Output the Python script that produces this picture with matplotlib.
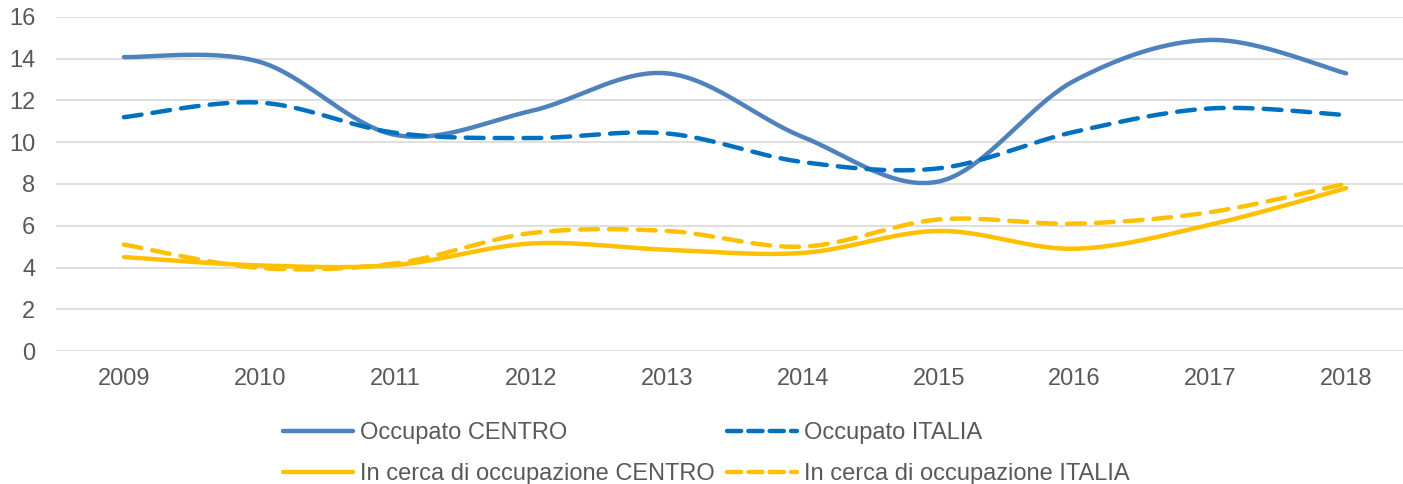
import numpy as np
import matplotlib
matplotlib.use("Agg")
import matplotlib.pyplot as plt
from matplotlib.lines import Line2D

plt.rcParams['font.family'] = ['Liberation Sans', 'DejaVu Sans']

# ---------------- data ----------------
anni = ['2009', '2010', '2011', '2012', '2013', '2014', '2015', '2016', '2017', '2018']

occ_centro = [14.08, 13.85, 10.35, 11.5, 13.3, 10.25, 8.12, 12.95, 14.9, 13.3]
occ_italia = [11.2, 11.9, 10.45, 10.2, 10.42, 9.05, 8.75, 10.5, 11.62, 11.3]
cerca_centro = [4.5, 4.1, 4.12, 5.15, 4.85, 4.7, 5.75, 4.9, 6.05, 7.8]
cerca_italia = [5.1, 3.98, 4.2, 5.65, 5.75, 5.0, 6.3, 6.1, 6.65, 8.02]


def excel_smooth(y, n=40):
    """Bezier smoothing like Excel's 'smoothed line'."""
    y = np.asarray(y, dtype=float)
    x = np.arange(len(y), dtype=float)
    pts = np.column_stack([x, y])
    out = [pts[0]]
    t = np.linspace(0, 1, n)[1:, None]
    for i in range(len(pts) - 1):
        p0 = pts[max(i - 1, 0)]
        p1 = pts[i]
        p2 = pts[i + 1]
        p3 = pts[min(i + 2, len(pts) - 1)]
        c1 = p1 + (p2 - p0) / 6.0
        c2 = p2 - (p3 - p1) / 6.0
        seg = ((1 - t) ** 3) * p1 + 3 * ((1 - t) ** 2) * t * c1 \
            + 3 * (1 - t) * t ** 2 * c2 + t ** 3 * p2
        out.extend(seg)
    out = np.array(out)
    return out[:, 0], out[:, 1]


fig = plt.figure(figsize=(14.03, 4.84), dpi=100)
ax = fig.add_axes([56 / 1403, 1 - 351 / 484, 1358 / 1403, 334 / 484])

blue1 = '#4F81BD'
blue2 = '#0070C0'
gold = '#FFC000'
dash = (4, 2.5)
fs = 17

series = [
    (occ_centro, blue1, '-', 'Occupato CENTRO'),
    (occ_italia, blue2, '--', 'Occupato ITALIA'),
    (cerca_centro, gold, '-', 'In cerca di occupazione CENTRO'),
    (cerca_italia, gold, '--', 'In cerca di occupazione ITALIA'),
]

handles = []
for vals, col, ls, lab in series:
    xs, ys = excel_smooth(vals)
    if ls == '--':
        ax.plot(xs, ys, color=col, lw=3.2, dashes=dash,
                dash_capstyle='round', solid_capstyle='round', zorder=3)
    else:
        ax.plot(xs, ys, color=col, lw=3.2, solid_capstyle='round', zorder=3)
    h = Line2D([], [], color=col, lw=3.2, solid_capstyle='round',
               dash_capstyle='round')
    if ls == '--':
        h.set_dashes((3.2, 1.6))
    h.set_label(lab)
    handles.append(h)

ax.set_xlim(-0.5, 9.5)
ax.set_ylim(0, 16)
ax.set_yticks(range(0, 17, 2))
ax.set_xticks(range(len(anni)))
ax.set_xticklabels(anni)
ax.yaxis.grid(True, color='#D9D9D9', lw=1.2)
ax.set_axisbelow(True)
for s in ax.spines.values():
    s.set_visible(False)
ax.tick_params(axis='both', length=0, labelsize=fs, colors='#595959')
ax.tick_params(axis='y', pad=15)
ax.tick_params(axis='x', pad=12)

# row 1: occupato, row 2: in cerca
order = [handles[0], handles[2], handles[1], handles[3]]
fig.legend(handles=order, labels=[h.get_label() for h in order],
           ncol=2, loc='upper left', frameon=False,
           bbox_to_anchor=(283 / 1403, 1 - 422 / 484),
           borderaxespad=0, borderpad=0, fontsize=fs,
           handlelength=2.95, handletextpad=0.3, columnspacing=0.55,
           labelspacing=0.8, labelcolor='#595959')

fig.savefig('out.png', dpi=100)
